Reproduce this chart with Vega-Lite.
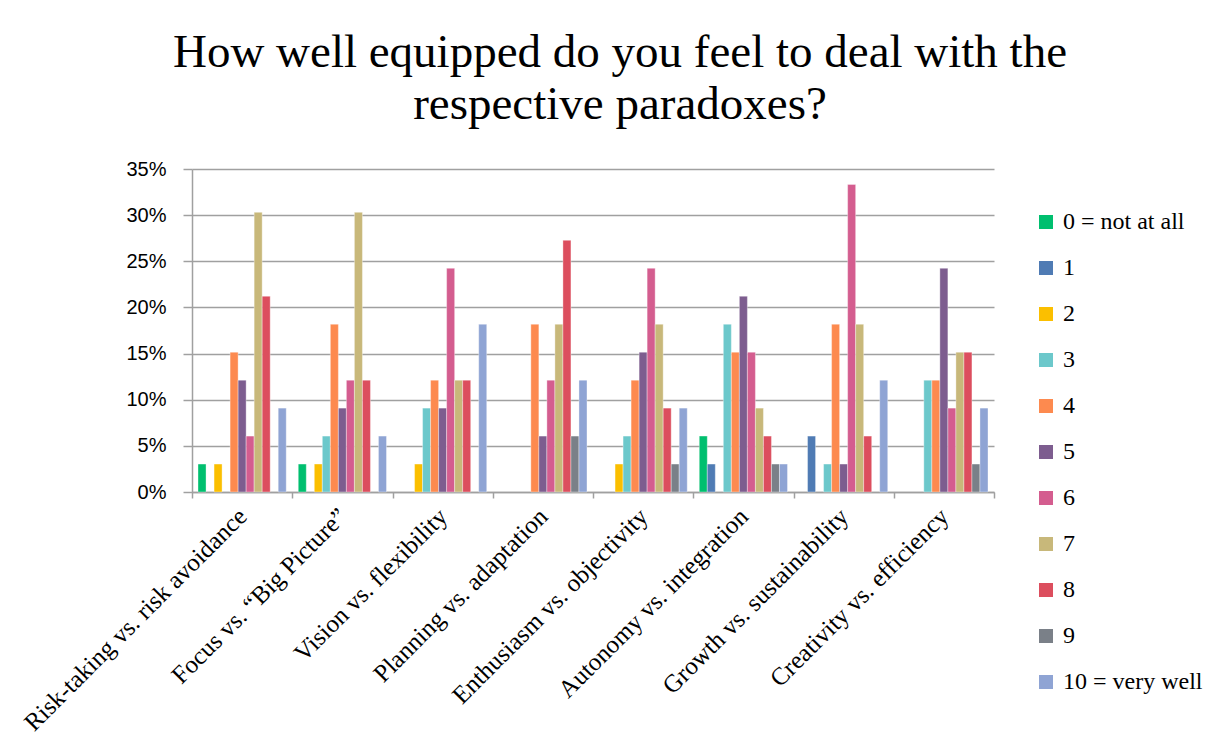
{
  "$schema": "https://vega.github.io/schema/vega-lite/v6.json",
  "autosize": "none",
  "width": 802,
  "height": 323,
  "padding": {"left": 192, "top": 169, "right": 236, "bottom": 263},
  "background": "white",
  "title": {
    "text": ["How well equipped do you feel to deal with the", "respective paradoxes?"],
    "font": "Liberation Serif",
    "fontSize": 47,
    "fontWeight": "normal",
    "color": "#000000",
    "anchor": "middle",
    "dx": 27,
    "offset": 30,
    "lineHeight": 52
  },
  "data": {
    "values": [
      {"paradox": "Risk-taking vs. risk avoidance", "rating": "0 = not at all", "share": 0.0303},
      {"paradox": "Risk-taking vs. risk avoidance", "rating": "2", "share": 0.0303},
      {"paradox": "Risk-taking vs. risk avoidance", "rating": "4", "share": 0.1515},
      {"paradox": "Risk-taking vs. risk avoidance", "rating": "5", "share": 0.1212},
      {"paradox": "Risk-taking vs. risk avoidance", "rating": "6", "share": 0.0606},
      {"paradox": "Risk-taking vs. risk avoidance", "rating": "7", "share": 0.303},
      {"paradox": "Risk-taking vs. risk avoidance", "rating": "8", "share": 0.2121},
      {"paradox": "Risk-taking vs. risk avoidance", "rating": "10 = very well", "share": 0.0909},

      {"paradox": "Focus vs. “Big Picture”", "rating": "0 = not at all", "share": 0.0303},
      {"paradox": "Focus vs. “Big Picture”", "rating": "2", "share": 0.0303},
      {"paradox": "Focus vs. “Big Picture”", "rating": "3", "share": 0.0606},
      {"paradox": "Focus vs. “Big Picture”", "rating": "4", "share": 0.1818},
      {"paradox": "Focus vs. “Big Picture”", "rating": "5", "share": 0.0909},
      {"paradox": "Focus vs. “Big Picture”", "rating": "6", "share": 0.1212},
      {"paradox": "Focus vs. “Big Picture”", "rating": "7", "share": 0.303},
      {"paradox": "Focus vs. “Big Picture”", "rating": "8", "share": 0.1212},
      {"paradox": "Focus vs. “Big Picture”", "rating": "10 = very well", "share": 0.0606},

      {"paradox": "Vision vs. flexibility", "rating": "2", "share": 0.0303},
      {"paradox": "Vision vs. flexibility", "rating": "3", "share": 0.0909},
      {"paradox": "Vision vs. flexibility", "rating": "4", "share": 0.1212},
      {"paradox": "Vision vs. flexibility", "rating": "5", "share": 0.0909},
      {"paradox": "Vision vs. flexibility", "rating": "6", "share": 0.2424},
      {"paradox": "Vision vs. flexibility", "rating": "7", "share": 0.1212},
      {"paradox": "Vision vs. flexibility", "rating": "8", "share": 0.1212},
      {"paradox": "Vision vs. flexibility", "rating": "10 = very well", "share": 0.1818},

      {"paradox": "Planning vs. adaptation", "rating": "4", "share": 0.1818},
      {"paradox": "Planning vs. adaptation", "rating": "5", "share": 0.0606},
      {"paradox": "Planning vs. adaptation", "rating": "6", "share": 0.1212},
      {"paradox": "Planning vs. adaptation", "rating": "7", "share": 0.1818},
      {"paradox": "Planning vs. adaptation", "rating": "8", "share": 0.2727},
      {"paradox": "Planning vs. adaptation", "rating": "9", "share": 0.0606},
      {"paradox": "Planning vs. adaptation", "rating": "10 = very well", "share": 0.1212},

      {"paradox": "Enthusiasm vs. objectivity", "rating": "2", "share": 0.0303},
      {"paradox": "Enthusiasm vs. objectivity", "rating": "3", "share": 0.0606},
      {"paradox": "Enthusiasm vs. objectivity", "rating": "4", "share": 0.1212},
      {"paradox": "Enthusiasm vs. objectivity", "rating": "5", "share": 0.1515},
      {"paradox": "Enthusiasm vs. objectivity", "rating": "6", "share": 0.2424},
      {"paradox": "Enthusiasm vs. objectivity", "rating": "7", "share": 0.1818},
      {"paradox": "Enthusiasm vs. objectivity", "rating": "8", "share": 0.0909},
      {"paradox": "Enthusiasm vs. objectivity", "rating": "9", "share": 0.0303},
      {"paradox": "Enthusiasm vs. objectivity", "rating": "10 = very well", "share": 0.0909},

      {"paradox": "Autonomy vs. integration", "rating": "0 = not at all", "share": 0.0606},
      {"paradox": "Autonomy vs. integration", "rating": "1", "share": 0.0303},
      {"paradox": "Autonomy vs. integration", "rating": "3", "share": 0.1818},
      {"paradox": "Autonomy vs. integration", "rating": "4", "share": 0.1515},
      {"paradox": "Autonomy vs. integration", "rating": "5", "share": 0.2121},
      {"paradox": "Autonomy vs. integration", "rating": "6", "share": 0.1515},
      {"paradox": "Autonomy vs. integration", "rating": "7", "share": 0.0909},
      {"paradox": "Autonomy vs. integration", "rating": "8", "share": 0.0606},
      {"paradox": "Autonomy vs. integration", "rating": "9", "share": 0.0303},
      {"paradox": "Autonomy vs. integration", "rating": "10 = very well", "share": 0.0303},

      {"paradox": "Growth vs. sustainability", "rating": "1", "share": 0.0606},
      {"paradox": "Growth vs. sustainability", "rating": "3", "share": 0.0303},
      {"paradox": "Growth vs. sustainability", "rating": "4", "share": 0.1818},
      {"paradox": "Growth vs. sustainability", "rating": "5", "share": 0.0303},
      {"paradox": "Growth vs. sustainability", "rating": "6", "share": 0.3333},
      {"paradox": "Growth vs. sustainability", "rating": "7", "share": 0.1818},
      {"paradox": "Growth vs. sustainability", "rating": "8", "share": 0.0606},
      {"paradox": "Growth vs. sustainability", "rating": "10 = very well", "share": 0.1212},

      {"paradox": "Creativity vs. efficiency", "rating": "3", "share": 0.1212},
      {"paradox": "Creativity vs. efficiency", "rating": "4", "share": 0.1212},
      {"paradox": "Creativity vs. efficiency", "rating": "5", "share": 0.2424},
      {"paradox": "Creativity vs. efficiency", "rating": "6", "share": 0.0909},
      {"paradox": "Creativity vs. efficiency", "rating": "7", "share": 0.1515},
      {"paradox": "Creativity vs. efficiency", "rating": "8", "share": 0.1515},
      {"paradox": "Creativity vs. efficiency", "rating": "9", "share": 0.0303},
      {"paradox": "Creativity vs. efficiency", "rating": "10 = very well", "share": 0.0909}
    ]
  },
  "mark": {"type": "bar", "stroke": "#ffffff", "strokeWidth": 0.6, "strokeOpacity": 0.6},
  "encoding": {
    "x": {
      "field": "paradox",
      "type": "nominal",
      "sort": null,
      "scale": {"paddingInner": 0, "paddingOuter": 0},
      "axis": {
        "title": null,
        "labelAngle": -45,
        "labelAlign": "right",
        "labelBaseline": "middle",
        "labelFont": "Liberation Serif",
        "labelFontSize": 25,
        "labelColor": "#000000",
        "labelPadding": 14,
        "labelLimit": 500,
        "labelOverlap": false,
        "tickBand": "extent",
        "tickSize": 6,
        "tickColor": "#a0a0a0",
        "tickWidth": 1.5,
        "domainColor": "#a0a0a0",
        "domainWidth": 1.5,
        "grid": false
      }
    },
    "xOffset": {
      "field": "rating",
      "type": "nominal",
      "scale": {
        "domain": ["0 = not at all", "1", "2", "3", "4", "5", "6", "7", "8", "9", "10 = very well"],
        "paddingInner": 0,
        "paddingOuter": 0.75
      }
    },
    "y": {
      "field": "share",
      "type": "quantitative",
      "scale": {"domain": [0, 0.35], "nice": false},
      "axis": {
        "title": null,
        "format": ".0%",
        "values": [0, 0.05, 0.1, 0.15, 0.2, 0.25, 0.3, 0.35],
        "labelFont": "Liberation Sans",
        "labelFontSize": 20,
        "labelColor": "#000000",
        "labelPadding": 17,
        "tickSize": 9,
        "tickColor": "#a0a0a0",
        "tickWidth": 1.5,
        "domainColor": "#a0a0a0",
        "domainWidth": 1.5,
        "grid": true,
        "gridColor": "#a0a0a0",
        "gridWidth": 1.5
      }
    },
    "color": {
      "field": "rating",
      "type": "nominal",
      "scale": {
        "domain": ["0 = not at all", "1", "2", "3", "4", "5", "6", "7", "8", "9", "10 = very well"],
        "range": ["#00bf6f", "#4f7bb4", "#fbbf00", "#6cc8cb", "#fd8a4f", "#7d5d8f", "#d45d8f", "#c8b87a", "#dc4e5e", "#7a8088", "#8fa4d4"]
      },
      "legend": {
        "title": null,
        "orient": "none",
        "legendX": 842,
        "legendY": 41,
        "padding": 0,
        "symbolType": "square",
        "symbolSize": 196,
        "symbolStrokeWidth": 0,
        "labelFont": "Liberation Serif",
        "labelFontSize": 24,
        "labelColor": "#000000",
        "labelOffset": 5,
        "labelLimit": 300,
        "rowPadding": 22
      }
    }
  },
  "config": {
    "view": {"stroke": null}
  }
}
